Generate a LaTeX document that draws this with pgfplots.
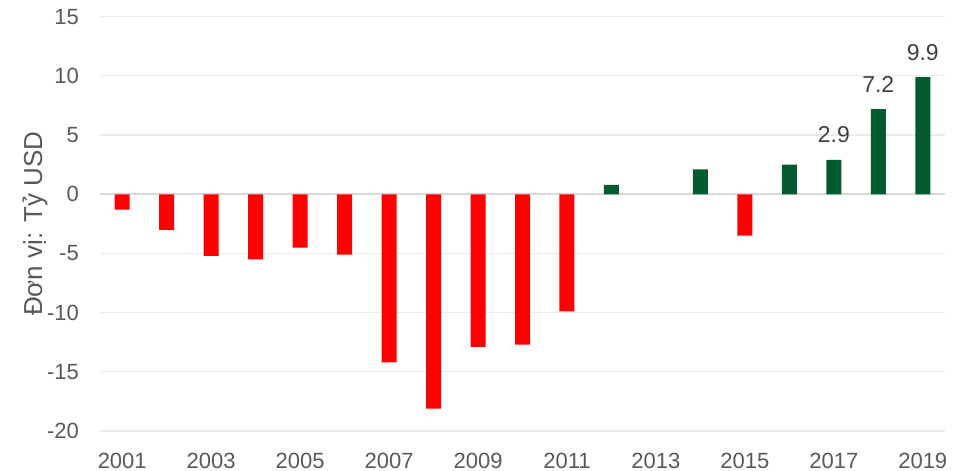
\documentclass[border=0pt]{standalone}
\usepackage{pgfplots}
\pgfplotsset{compat=1.18}
\usepackage{fontspec}
\setmainfont{Liberation Sans}
\definecolor{barred}{HTML}{FF0000}
\definecolor{bargreen}{HTML}{035A2F}
\definecolor{ticktext}{HTML}{595959}
\definecolor{labtext}{HTML}{404040}
\definecolor{gridc}{HTML}{EBEBEB}
\definecolor{zeroc}{HTML}{D9D9D9}
\begin{document}
\begin{tikzpicture}
\useasboundingbox (-100bp,-40bp) rectangle (872bp,431bp);
\begin{axis}[
  scale only axis,
  width=845bp, height=414.3bp,
  xmin=2000.5, xmax=2019.5,
  ymin=-20, ymax=15,
  ytick={-20,-15,...,15},
  xtick={2001,2003,...,2019},
  /pgf/number format/1000 sep={},
  /pgf/number format/assume math mode=true,
  axis line style={draw=none},
  major tick length=0pt,
  ymajorgrids,
  grid style={gridc, line width=1.2bp},
  tick label style={font=\fontsize{22bp}{26bp}\selectfont, text=ticktext, inner sep=0pt},
  yticklabel style={anchor=east, xshift=-21bp},
  xticklabel style={anchor=base, yshift=-37bp},
  ylabel={Đơn vị: Tỷ USD},
  ylabel style={at={(axis description cs:-0.077,0.5)}, anchor=center, rotate=0, font=\fontsize{26bp}{30bp}\selectfont, text=ticktext},
  ybar, bar shift=0pt, bar width=15bp,
  clip=false,
]
\draw[zeroc, line width=2bp] (axis cs:2000.5,0) -- (axis cs:2019.5,0);
\addplot[fill=barred, draw=none] coordinates {
(2001,-1.3) (2002,-3.0) (2003,-5.2) (2004,-5.5) (2005,-4.5) (2006,-5.1)
(2007,-14.2) (2008,-18.1) (2009,-12.9) (2010,-12.7) (2011,-9.9) (2015,-3.5)
};
\addplot[fill=bargreen, draw=none] coordinates {
(2012,0.8) (2014,2.1) (2016,2.5)
};
\addplot[fill=bargreen, draw=none,
  nodes near coords,
  nodes near coords style={font=\fontsize{23bp}{27bp}\selectfont, text=labtext, anchor=base, inner sep=0pt, yshift=17bp, /pgf/number format/fixed, /pgf/number format/precision=1, /pgf/number format/fixed zerofill},
] coordinates {
(2017,2.9) (2018,7.2) (2019,9.9)
};
\end{axis}
\end{tikzpicture}
\end{document}
